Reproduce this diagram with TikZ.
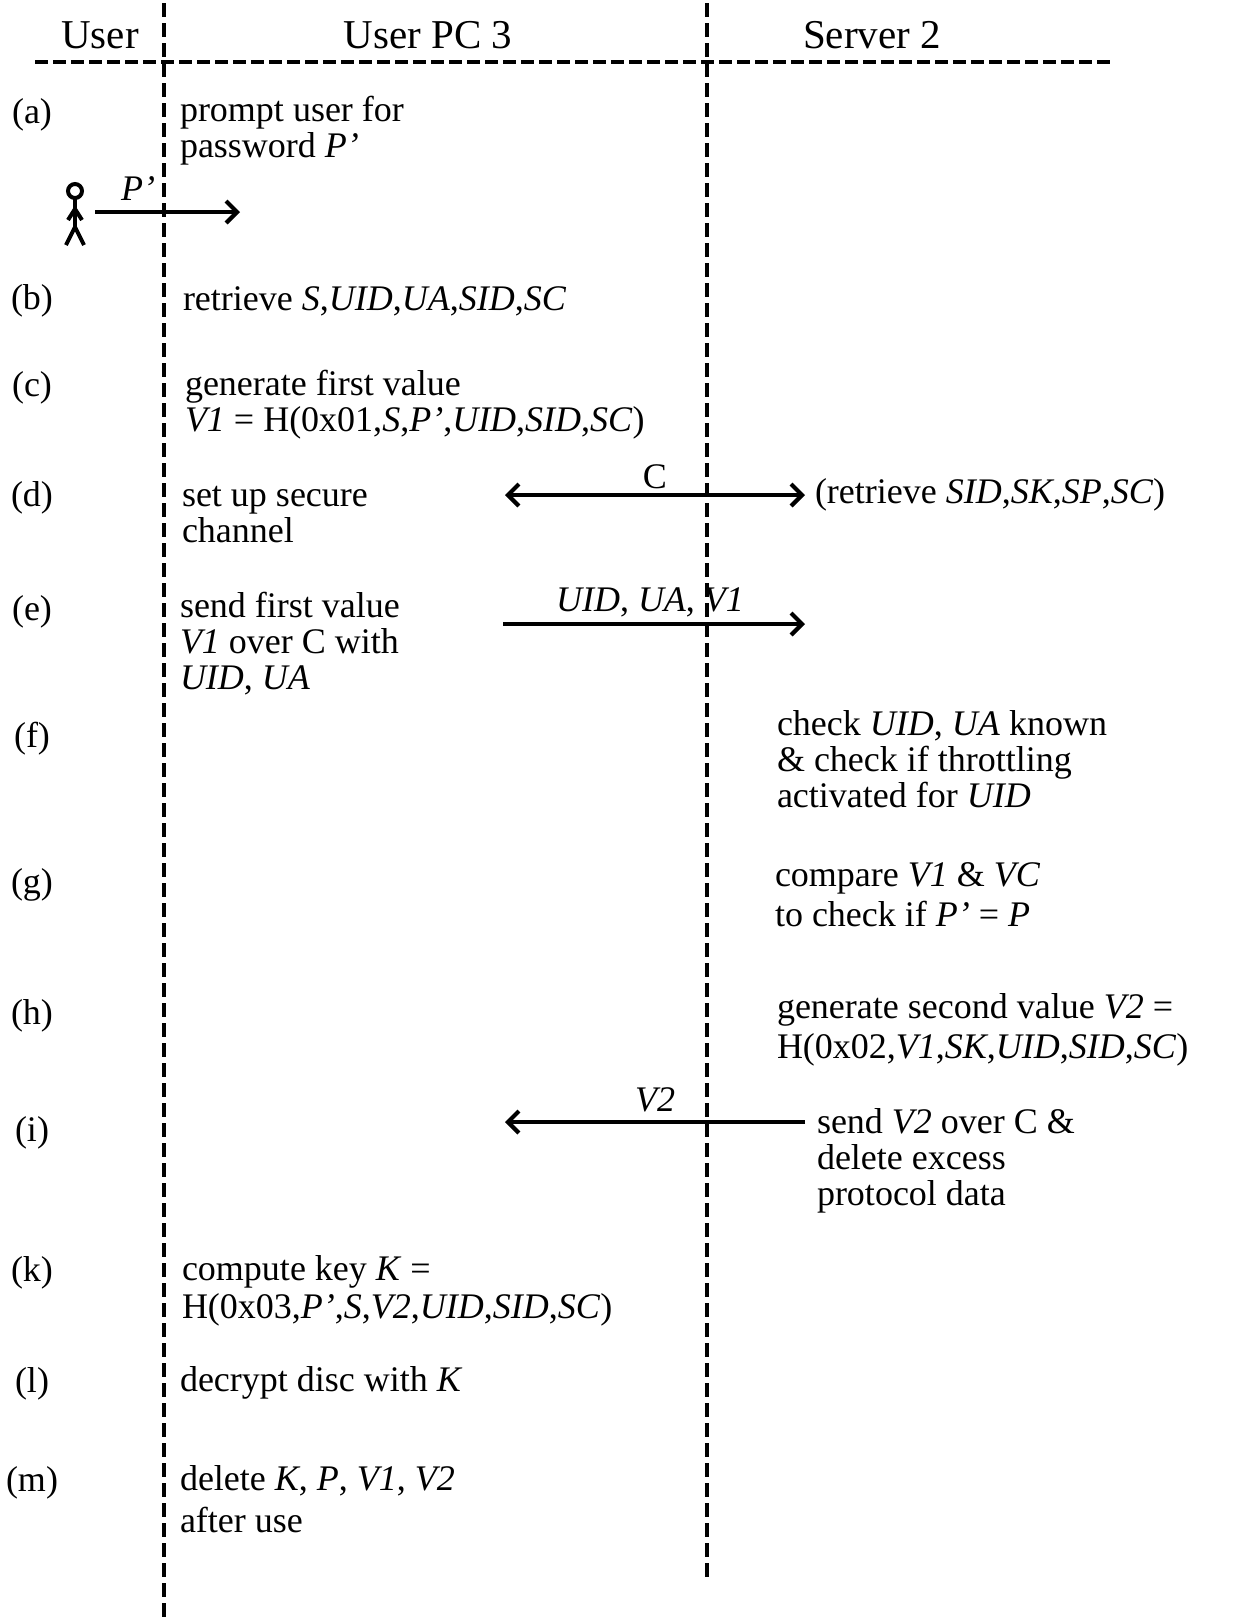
\documentclass[tikz,border=0pt]{standalone}
\usepackage{fontspec}
\setmainfont{Liberation Serif}
\usetikzlibrary{arrows.meta}
\newcommand{\vr}[1]{\textit{#1}}
\begin{document}
\begin{tikzpicture}[x=0.5pt,y=-0.5pt,
  every node/.style={inner sep=0pt, outer sep=0pt},
  >={Straight Barb[length=5.5pt,width=11pt]},
  % multi-line nodes: the base anchor is the baseline of the LAST line
  body/.style={font=\fontsize{18}{18}\selectfont, align=left, anchor=base west},
  headtext/.style={font=\fontsize{20.5}{22}\selectfont, anchor=base},
  steplabel/.style={font=\fontsize{18}{18}\selectfont, anchor=base},
  lifeline/.style={line width=2pt, dash pattern=on 7pt off 3pt},
  topline/.style={line width=2pt, dash pattern=on 6.5pt off 2.5pt},
  msg/.style={line width=2.1pt},
  msglabel/.style={font=\fontsize{18}{18}\selectfont, anchor=base},
  stick/.style={line width=2pt}
]
\useasboundingbox (0,0) rectangle (1240,1619);

% header
\node[headtext] (hUser) at (100,48) {User};
\node[headtext] (hPC) at (428,48) {User PC 3};
\node[headtext] (hSrv) at (872,48) {Server 2};

% lifelines and top line
\coordinate (l1top) at (164,3);
\coordinate (l1bot) at (164,1619);
\coordinate (l2top) at (707,3);
\coordinate (l2bot) at (707,1582);
\coordinate (tlL) at (35,62);
\coordinate (tlR) at (1112,62);
\draw[topline] (tlL) -- (tlR);
\draw[lifeline] (l1top) -- (l1bot);
\draw[lifeline] (l2top) -- (l2bot);

% step labels
\node[steplabel] (la) at (32,123) {(a)};
\node[steplabel] (lb) at (32,309) {(b)};
\node[steplabel] (lc) at (32,396) {(c)};
\node[steplabel] (ld) at (32,506) {(d)};
\node[steplabel] (le) at (32,620) {(e)};
\node[steplabel] (lf) at (32,747) {(f)};
\node[steplabel] (lg) at (32,893) {(g)};
\node[steplabel] (lh) at (32,1024) {(h)};
\node[steplabel] (li) at (32,1141) {(i)};
\node[steplabel] (lk) at (32,1281) {(k)};
\node[steplabel] (ll) at (32,1392) {(l)};
\node[steplabel] (lm) at (32,1491) {(m)};

% (a)
\node[body] (ta) at (180,157) {prompt user for\\password \vr{P’}};
\draw[stick] (75,191) circle (7);
\draw[stick] (75,198) -- (75,227);
\draw[stick] (68,220) -- (75,209) -- (82,220);
\draw[stick] (66,245) -- (75,227) -- (84,245);
\coordinate (aS) at (95,212);
\coordinate (aE) at (240,212);
\draw[msg,->] (aS) -- (aE);
\node[msglabel] (aP) at (138,200) {\vr{P’}};

% (b)
\node[body] (tb) at (183,310) {retrieve \vr{S},\vr{UID},\vr{UA},\vr{SID},\vr{SC}};

% (c)
\node[body] (tc) at (185,431) {generate first value\\\vr{V1} = H(0x01,\vr{S},\vr{P’},\vr{UID},\vr{SID},\vr{SC})};

% (d)
\node[body] (td) at (182,542) {set up secure\\channel};
\coordinate (dL) at (505,495);
\coordinate (dR) at (805,495);
\draw[msg,<->] (dL) -- (dR);
\node[msglabel] (dC) at (655,488) {C};
\node[body] (dret) at (815,503) {(retrieve \vr{SID},\vr{SK},\vr{SP},\vr{SC})};

% (e)
\node[body] (te) at (180,689) {send first value\\\vr{V1} over C with\\\vr{UID}, \vr{UA}};
\coordinate (eL) at (503,624);
\coordinate (eR) at (805,624);
\draw[msg,->] (eL) -- (eR);
\node[msglabel] (eLab) at (650,611) {\vr{UID}, \vr{UA}, \vr{V1}};

% (f)
\node[body] (tf) at (777,807) {check \vr{UID}, \vr{UA} known\\\& check if throttling\\activated for \vr{UID}};

% (g)
\node[body] (tg) at (775,926) {compare \vr{V1} \& \vr{VC}\\[2pt]to check if \vr{P’} = \vr{P}};

% (h)
\node[body] (th) at (777,1058) {generate second value \vr{V2} =\\[2pt]H(0x02,\vr{V1},\vr{SK},\vr{UID},\vr{SID},\vr{SC})};

% (i)
\coordinate (iR) at (805,1122);
\coordinate (iL) at (505,1122);
\draw[msg,->] (iR) -- (iL);
\node[msglabel] (iLab) at (655,1111) {\vr{V2}};
\node[body] (ti) at (817,1205) {send \vr{V2} over C \&\\delete excess\\protocol data};

% (k)
\node[body] (tk) at (182,1318) {compute key \vr{K} =\\[1pt]H(0x03,\vr{P’},\vr{S},\vr{V2},\vr{UID},\vr{SID},\vr{SC})};

% (l)
\node[body] (tl) at (180,1391) {decrypt disc with \vr{K}};

% (m)
\node[body] (tm) at (180,1532) {delete \vr{K}, \vr{P}, \vr{V1}, \vr{V2}\\[3pt]after use};
\end{tikzpicture}
\end{document}
